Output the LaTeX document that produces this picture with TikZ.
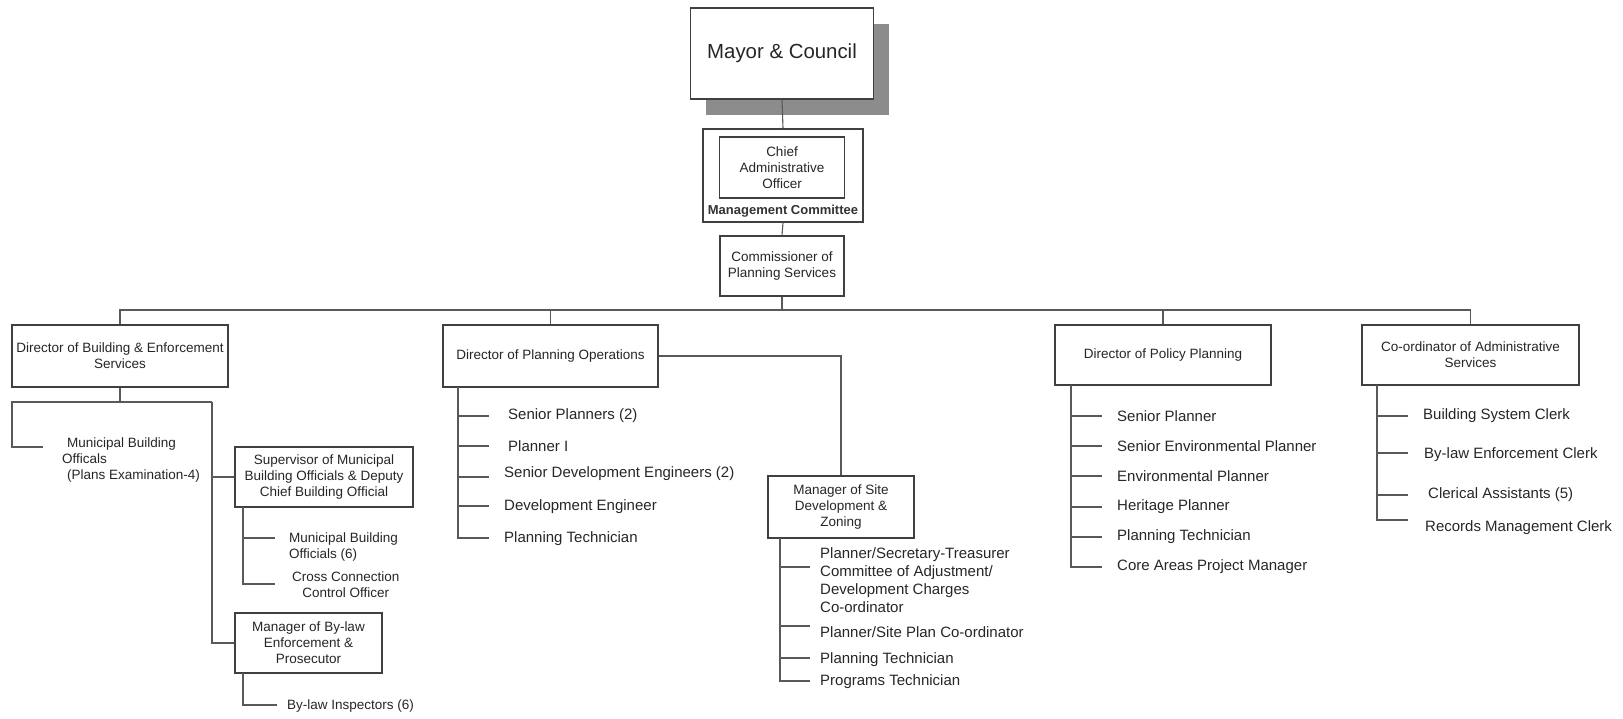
\documentclass[tikz,border=0pt]{standalone}
\usepackage{fontspec}
\setmainfont{Liberation Sans}
\begin{document}
\begin{tikzpicture}[x=1pt,y=-1pt,
  conn/.style={draw=black!65, line width=1.1pt},
  box/.style={draw=black!75, line width=1.3pt, fill=white, inner sep=0pt, align=center,
    text=black!85, font=\fontsize{13.5}{16}\selectfont},
  item/.style={anchor=west, inner sep=0pt, align=left, text=black!85,
    font=\fontsize{13.5}{16}\selectfont},
  itembig/.style={item, font=\fontsize{15}{18}\selectfont}]
\useasboundingbox (0,0) rectangle (1623,718);

% ---- top of the hierarchy
\fill[black!45] (706,24) rectangle (889,115);
\node[box, minimum width=183pt, minimum height=91pt, font=\fontsize{20.4}{24}\selectfont]
  (mayor) at (782,53.5) {Mayor \& Council};
\node[box, minimum width=160pt, minimum height=93pt] (mc) at (783,175.5) {};
\node[box, minimum width=125pt, minimum height=61pt] (cao) at (782,167.5)
  {Chief\\Administrative\\Officer};
\node[inner sep=0pt, font=\fontsize{13}{16}\selectfont\bfseries, text=black!80] (mclabel) at (783,211)
  {Management Committee};
\node[box, minimum width=124pt, minimum height=60pt] (comm) at (782,266)
  {Commissioner of\\Planning Services};

\draw[conn] (mayor.south) -- (mc.north);
\draw[conn] (mc.south) -- (comm.north);

% ---- directors
\node[box, minimum width=216pt, minimum height=62pt] (dbe) at (120,356)
  {Director of Building \& Enforcement\\Services};
\node[box, minimum width=215pt, minimum height=62pt] (dpo) at (550.5,356)
  {Director of Planning Operations};
\node[box, minimum width=216pt, minimum height=60pt] (dpp) at (1163,355)
  {Director of Policy Planning};
\node[box, minimum width=217pt, minimum height=60pt] (cas) at (1470.5,355)
  {Co-ordinator of Administrative\\Services};

\coordinate (bus) at (782,310);
\draw[conn] (comm.south) -- (bus);
\draw[conn] (dbe.north) |- (bus) -| (cas.north);
\draw[conn] (dpo.north) -- (dpo.north |- bus);
\draw[conn] (dpp.north) -- (dpp.north |- bus);

% ---- building & enforcement branch
\node[box, minimum width=178pt, minimum height=60pt] (sup) at (324,477)
  {Supervisor of Municipal\\Building Officials \& Deputy\\Chief Building Official};
\node[box, minimum width=147pt, minimum height=60pt] (mbl) at (308.5,643)
  {Manager of By-law\\Enforcement \&\\Prosecutor};

\coordinate (dbej) at (120,402);
\coordinate (dbel) at (12,402);
\coordinate (dber) at (212,402);
\coordinate (mboend) at (43,447);
\draw[conn] (dbe.south) -- (dbej);
\draw[conn] (dber) -- (dbel) |- (mboend);
\draw[conn] (dber) |- (mbl.west);
\draw[conn] (dber |- sup.west) -- (sup.west);
\node[item] (mbo) at (62,460)
  {\hspace*{5pt}Municipal Building\\Officals\\\hspace*{5pt}(Plans Examination-4)};

\coordinate (supt) at (243,507);
\coordinate (supa) at (275,538);
\coordinate (supb) at (275,584);
\draw[conn] (supt) |- (supb);
\draw[conn] (supt |- supa) -- (supa);
\node[item] (mbo6) at (289,547) {Municipal Building\\Officials (6)};
\node[item, align=center] (ccco) at (292,585) {Cross Connection\\Control Officer};

\coordinate (mblt) at (243,673);
\coordinate (mbla) at (277,705);
\draw[conn] (mblt) |- (mbla);
\node[item] (bli) at (287,706) {By-law Inspectors (6)};

% ---- planning operations branch
\node[box, minimum width=146pt, minimum height=62pt] (msd) at (841,507)
  {Manager of Site\\Development \&\\Zoning};
\draw[conn] (dpo.east) -| (msd.north);

\coordinate (dpot) at (458,387);
\coordinate (dpoa) at (489,416);
\coordinate (dpob) at (489,446);
\coordinate (dpoc) at (489,477);
\coordinate (dpod) at (489,506);
\coordinate (dpoe) at (489,538);
\draw[conn] (dpot) |- (dpoe);
\foreach \c in {dpoa,dpob,dpoc,dpod} \draw[conn] (dpot |- \c) -- (\c);
\node[itembig] (sp2) at (508,416) {Senior Planners (2)};
\node[itembig] (p1) at (508,446) {Planner I};
\node[itembig] (sde) at (504,474) {Senior Development Engineers (2)};
\node[itembig] (de) at (504,507) {Development Engineer};
\node[itembig] (pt1) at (504,539) {Planning Technician};

\coordinate (msdt) at (780,538);
\coordinate (msda) at (810,567);
\coordinate (msdb) at (810,626);
\coordinate (msdc) at (810,658);
\coordinate (msdd) at (810,681);
\draw[conn] (msdt) |- (msdd);
\foreach \c in {msda,msdb,msdc} \draw[conn] (msdt |- \c) -- (\c);
\node[itembig] (pst) at (820,580)
  {Planner/Secretary-Treasurer\\Committee of Adjustment/\\Development Charges\\Co-ordinator};
\node[itembig] (pspc) at (820,632) {Planner/Site Plan Co-ordinator};
\node[itembig] (pt2) at (820,660) {Planning Technician};
\node[itembig] (prt) at (820,682) {Programs Technician};

% ---- policy planning branch
\coordinate (dppt) at (1071,385);
\coordinate (dppa) at (1102,416);
\coordinate (dppb) at (1102,446);
\coordinate (dppc) at (1102,476);
\coordinate (dppd) at (1102,507);
\coordinate (dppe) at (1102,537);
\coordinate (dppf) at (1102,567);
\draw[conn] (dppt) |- (dppf);
\foreach \c in {dppa,dppb,dppc,dppd,dppe} \draw[conn] (dppt |- \c) -- (\c);
\node[itembig] (spl) at (1117,416) {Senior Planner};
\node[itembig] (sep) at (1117,446) {Senior Environmental Planner};
\node[itembig] (ep) at (1117,476) {Environmental Planner};
\node[itembig] (hp) at (1117,507) {Heritage Planner};
\node[itembig] (pt3) at (1117,537) {Planning Technician};
\node[itembig] (capm) at (1117,567) {Core Areas Project Manager};

% ---- administrative services branch
\coordinate (cast) at (1377,385);
\coordinate (casa) at (1408,416);
\coordinate (casb) at (1408,453);
\coordinate (casc) at (1408,495);
\coordinate (casd) at (1408,520);
\draw[conn] (cast) |- (casd);
\foreach \c in {casa,casb,casc} \draw[conn] (cast |- \c) -- (\c);
\node[itembig] (bsc) at (1423,416) {Building System Clerk};
\node[itembig] (bec) at (1424,455) {By-law Enforcement Clerk};
\node[itembig] (ca5) at (1428,495) {Clerical Assistants (5)};
\node[itembig] (rmc) at (1425,528) {Records Management Clerk};
\end{tikzpicture}
\end{document}
